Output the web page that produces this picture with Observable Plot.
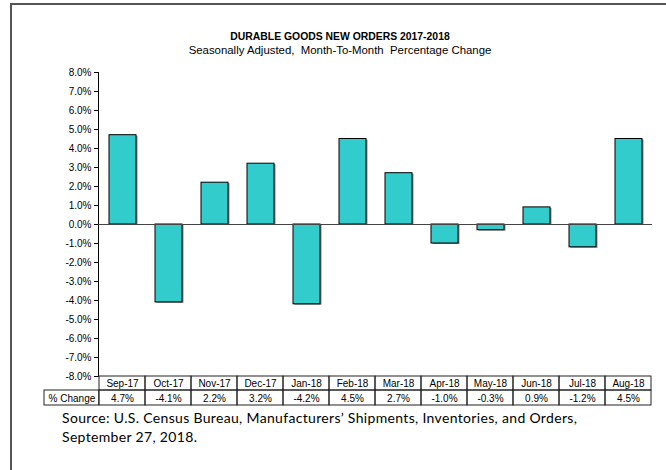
<!DOCTYPE html>
<html>
<head>
<meta charset="utf-8">
<script src="https://cdn.jsdelivr.net/npm/d3@7"></script>
<script src="https://cdn.jsdelivr.net/npm/@observablehq/plot@0.6"></script>
<style>
  html, body { margin: 0; padding: 0; background: #fff; }
  #wrap { position: relative; width: 666px; height: 470px; overflow: hidden; }
  #frameTop { position: absolute; left: 10px; top: 3px; width: 660px; height: 2px; background: #555; }
  #frameLeft { position: absolute; left: 10px; top: 3px; width: 2px; height: 480px; background: #555; }
  .t { position: absolute; left: 0; width: 680px; text-align: center; white-space: pre; font-family: "Liberation Sans", Arial, sans-serif; color: #000; }
  #title { top: 30px; font-size: 10.4px; font-weight: bold; line-height: 14px; }
  #subtitle { top: 43px; font-size: 11.4px; line-height: 14px; }
  .src { position: absolute; left: 62px; font-family: Lato, "Open Sans", sans-serif; font-size: 14px; letter-spacing: 0.33px; line-height: 19px; color: #000; white-space: pre; }
  #src1 { top: 408px; }
  #src2 { top: 427px; }
  #chart { position: absolute; left: 0; top: 0; }
</style>
</head>
<body>
<div id="wrap">
  <div id="chart"></div>
  <div id="frameTop"></div>
  <div id="frameLeft"></div>
  <div class="t" id="title">DURABLE GOODS NEW ORDERS 2017-2018</div>
  <div class="t" id="subtitle">Seasonally Adjusted,  Month-To-Month  Percentage Change</div>
  <div class="src" id="src1">Source: U.S. Census Bureau, Manufacturers’ Shipments, Inventories, and Orders,</div>
  <div class="src" id="src2">September 27, 2018.</div>
</div>
<script>
const months = ["Sep-17","Oct-17","Nov-17","Dec-17","Jan-18","Feb-18","Mar-18","Apr-18","May-18","Jun-18","Jul-18","Aug-18"];
const changes = [4.7, -4.1, 2.2, 3.2, -4.2, 4.5, 2.7, -1.0, -0.3, 0.9, -1.2, 4.5];
const yTicks = [-8,-7,-6,-5,-4,-3,-2,-1,0,1,2,3,4,5,6,7,8];
const rowLabel = "% Change";

const data = months.map((m, i) => ({month: m, value: changes[i], label: changes[i].toFixed(1) + "%"}));
const yMin = yTicks[0];
const font = "Liberation Sans, Arial, sans-serif";

const chart = Plot.plot({
  width: 666,
  height: 470,
  marginLeft: 98,
  marginRight: 14,
  marginTop: 72,
  marginBottom: 94,
  style: {fontFamily: font, fontSize: "10px", color: "#000", background: "transparent"},
  x: {domain: months, padding: 0, axis: null},
  y: {domain: [yMin, yTicks[yTicks.length - 1]], ticks: yTicks, tickFormat: d => d.toFixed(1) + "%", tickSize: 4, tickPadding: 3, label: null, line: true},
  marks: [
    // shadow
    Plot.barY(data, {x: "month", y: "value", fill: "#8a8a8a", insetLeft: 10, insetRight: 9, dx: 1.5, dy: 1}),
    Plot.barY(data, {x: "month", y: "value", fill: "#33CCCC", stroke: "#000", strokeWidth: 1, insetLeft: 10, insetRight: 9}),
    Plot.ruleY([0], {stroke: "#444", strokeWidth: 1.2}),
    // table row 1: categories
    Plot.barY(data, {x: "month", y1: yMin, y2: yMin, insetTop: 0, insetBottom: -14, fill: "none", stroke: "#222", strokeWidth: 1}),
    Plot.text(data, {x: "month", y: yMin, text: "month", dy: 7.5, fontSize: 10, fill: "#000"}),
    // table row 2: values
    Plot.barY(data, {x: "month", y1: yMin, y2: yMin, insetTop: 14, insetBottom: -29, fill: "none", stroke: "#222", strokeWidth: 1}),
    Plot.text(data, {x: "month", y: yMin, text: "label", dy: 22, fontSize: 10, fill: "#000"}),
    // row label cell
    Plot.barY([months[0]], {x: d => d, y1: yMin, y2: yMin, insetTop: 14, insetBottom: -29, insetLeft: -55, insetRight: 46.2, fill: "none", stroke: "#222", strokeWidth: 1}),
    Plot.text([rowLabel], {x: () => months[0], y: yMin, text: d => d, dy: 22, dx: -50.6, fontSize: 10, fill: "#000"})
  ]
});
document.getElementById("chart").appendChild(chart);
</script>
</body>
</html>
